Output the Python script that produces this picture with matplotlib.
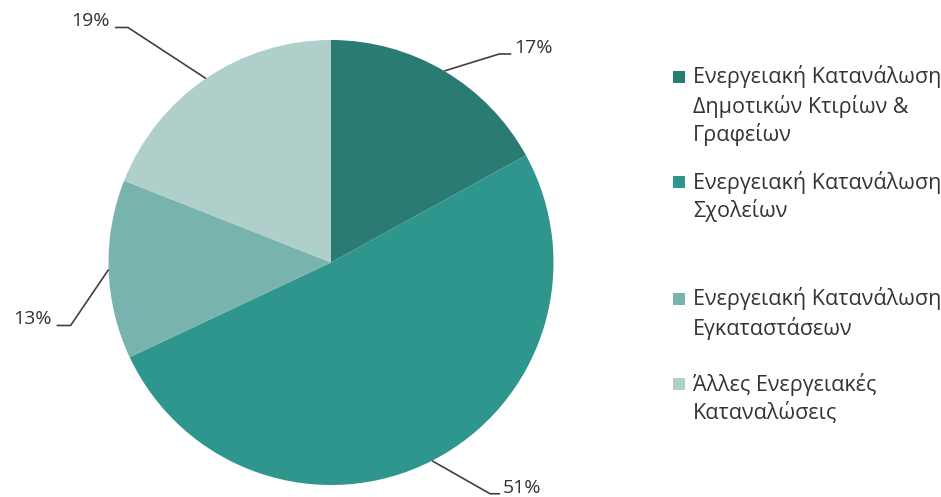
import numpy as np
import matplotlib.pyplot as plt
from matplotlib.patches import Rectangle

# Energy consumption shares (percent), clockwise from 12 o'clock
shares = [17, 51, 13, 19]
labels = [
    'Ενεργειακή Κατανάλωση\nΔημοτικών Κτιρίων &\nΓραφείων',
    'Ενεργειακή Κατανάλωση\nΣχολείων',
    'Ενεργειακή Κατανάλωση\nΕγκαταστάσεων',
    'Άλλες Ενεργειακές\nΚαταναλώσεις',
]
colors = ['#2a7b73', '#2f968d', '#78b4ad', '#aecfca']

W, H = 941, 497
TEXT_COLOR = '#333333'
FONT = ['Open Sans', 'DejaVu Sans']

fig = plt.figure(figsize=(W / 100, H / 100), dpi=100)
ax = fig.add_axes([0, 0, 1, 1])

# pie laid out in pixel units (y measured upward)
cx, cy, r = 331, H - 262.5, 222.5
wedges, _ = ax.pie(shares, colors=colors, startangle=90, counterclock=False,
                   center=(cx, cy), radius=r, frame=True,
                   wedgeprops=dict(linewidth=0))
ax.set_xlim(0, W)
ax.set_ylim(0, H)
ax.set_aspect('equal')
ax.axis('off')

# leader lines: (elbow dx, elbow dy) from the wedge edge, then horizontal run, text side
leaders = [
    (55, 17, 12, 'left'),
    (58, -33, 10, 'left'),
    (-38, -56, -14, 'right'),
    (-78, 51, -13, 'right'),
]

for w, pct, (ex, ey, run, side) in zip(wedges, shares, leaders):
    ang = np.deg2rad((w.theta1 + w.theta2) / 2)
    x0, y0 = cx + r * np.cos(ang), cy + r * np.sin(ang)
    x1, y1 = x0 + ex, y0 + ey
    x2 = x1 + run
    ax.plot([x0, x1, x2], [y0, y1, y1], color='#404040', lw=1.2,
            solid_capstyle='butt')
    tx = x2 + (3 if side == 'left' else -5)
    ax.text(tx, y1 + 6, f'{pct}%', ha=side, va='center', fontsize=14,
            color=TEXT_COLOR, family=FONT)

# legend drawn by hand, top line of each entry
entry_tops = [77, 182, 299, 384]
line_gap = 29
for lab, col, top in zip(labels, colors, entry_tops):
    y = H - top
    ax.add_patch(Rectangle((673, y - 6), 12, 12, facecolor=col, edgecolor='none'))
    for i, line in enumerate(lab.split('\n')):
        ax.text(693, y - i * line_gap, line, ha='left', va='center',
                fontsize=15.5, color=TEXT_COLOR, family=FONT)

fig.savefig('out.png', dpi=100, facecolor='white')
